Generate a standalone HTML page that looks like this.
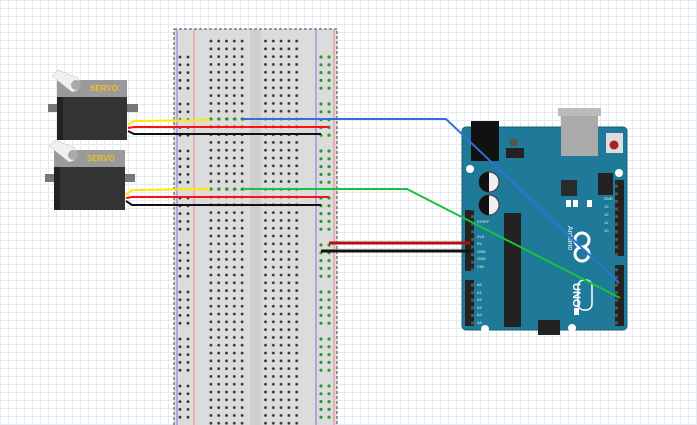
<!DOCTYPE html>
<html><head><meta charset="utf-8"><style>
html,body{margin:0;padding:0;}
body{width:697px;height:425px;overflow:hidden;background:#fff;
background-image:linear-gradient(to right,#e6eaf1 1px,transparent 1px),linear-gradient(to bottom,#e6eaf1 1px,transparent 1px);
background-size:8px 8px;}
svg{position:absolute;left:0;top:0;}
text{font-family:"Liberation Sans",sans-serif;}
</style></head><body>
<svg width="697" height="425" viewBox="0 0 697 425">
<defs>
<pattern id="mh" x="207" y="37.1" width="7.8" height="7.8" patternUnits="userSpaceOnUse">
<circle cx="3.9" cy="3.9" r="1.4" fill="#333"/></pattern>
<pattern id="rail" x="176" y="53" width="8" height="47" patternUnits="userSpaceOnUse">
<circle cx="4" cy="4" r="1.4" fill="#333"/><circle cx="4" cy="11.8" r="1.4" fill="#333"/><circle cx="4" cy="19.6" r="1.4" fill="#333"/><circle cx="4" cy="27.4" r="1.4" fill="#333"/><circle cx="4" cy="35.2" r="1.4" fill="#333"/></pattern>
<pattern id="railg" x="317" y="53" width="8" height="47" patternUnits="userSpaceOnUse">
<circle cx="4" cy="4" r="1.6" fill="#2a9a2a"/><circle cx="4" cy="11.8" r="1.6" fill="#2a9a2a"/><circle cx="4" cy="19.6" r="1.6" fill="#2a9a2a"/><circle cx="4" cy="27.4" r="1.6" fill="#2a9a2a"/><circle cx="4" cy="35.2" r="1.6" fill="#2a9a2a"/></pattern>
<pattern id="pin" x="0" y="0" width="9" height="7.6" patternUnits="userSpaceOnUse">
<rect width="9" height="7.6" fill="#222"/><rect x="3" y="2.3" width="3" height="3" fill="#555"/></pattern>
</defs>
<rect x="174" y="29" width="163" height="400" fill="#dcdcdc" stroke="#444" stroke-dasharray="3,2"/>
<rect x="250" y="30" width="11" height="400" fill="#cfcfcf"/>
<line x1="177" y1="30" x2="177" y2="425" stroke="#7777ee"/>
<line x1="194" y1="30" x2="194" y2="425" stroke="#ee8888"/>
<line x1="316" y1="30" x2="316" y2="425" stroke="#7777ee"/>
<line x1="334" y1="30" x2="334" y2="425" stroke="#ee8888"/>
<rect x="176" y="53" width="16" height="372" fill="url(#rail)"/>
<rect x="317" y="53" width="16" height="372" fill="url(#railg)"/>
<rect x="207" y="37.1" width="39" height="390" fill="url(#mh)"/>
<rect x="262" y="37.1" width="39" height="390" fill="url(#mh)"/>
<g fill="#2a9a2a"><circle cx="211" cy="119" r="1.6"/><circle cx="219" cy="119" r="1.6"/><circle cx="227" cy="119" r="1.6"/><circle cx="235" cy="119" r="1.6"/><circle cx="243" cy="119" r="1.6"/>
<circle cx="211" cy="189" r="1.6"/><circle cx="219" cy="189" r="1.6"/><circle cx="227" cy="189" r="1.6"/><circle cx="235" cy="189" r="1.6"/><circle cx="243" cy="189" r="1.6"/></g>
<!-- servo 1 -->
<g>
<rect x="48" y="104" width="90" height="8" fill="#777"/>
<rect x="57" y="80" width="70" height="60" fill="#333"/>
<rect x="57" y="97" width="6" height="43" fill="#222"/>
<path d="M57 80 L127 80 L127 97 L57 97 Z" fill="#9a9a9a"/>
<path d="M52 76 L58 70 L78 78 Q84 90 72 92 Z" fill="#f0f0f0" stroke="#bbb" stroke-width="0.5"/>
<circle cx="76" cy="85" r="5" fill="#aaa"/>
<text x="90" y="91" font-size="8" font-weight="bold" fill="#f0c020">SERVO</text>
</g>
<g>
<rect x="45" y="174" width="90" height="8" fill="#777"/>
<rect x="54" y="150" width="71" height="60" fill="#333"/>
<rect x="54" y="167" width="6" height="43" fill="#222"/>
<path d="M54 150 L125 150 L125 167 L54 167 Z" fill="#9a9a9a"/>
<path d="M49 146 L55 140 L75 148 Q81 160 69 162 Z" fill="#f0f0f0" stroke="#bbb" stroke-width="0.5"/>
<circle cx="73" cy="155" r="5" fill="#aaa"/>
<text x="87" y="161" font-size="8" font-weight="bold" fill="#f0c020">SERVO</text>
</g>
<g fill="none" stroke-width="2">
<polyline points="128,125 134,121 210,120" stroke="#ffe800"/>
<polyline points="128,128 134,127 329,127" stroke="#ff1010"/>
<polyline points="128,131 134,134 321,134" stroke="#111"/>
<polyline points="126,195 132,190 210,189" stroke="#ffe800"/>
<polyline points="126,198 132,197 329,197" stroke="#ff1010"/>
<polyline points="126,201 132,205 321,205" stroke="#111"/>
</g>
<!-- arduino -->
<rect x="462" y="127" width="165" height="203" rx="4" fill="#1f7a9a" stroke="#156079"/>
<rect x="471" y="121" width="28" height="40" fill="#111"/>
<rect x="561" y="108" width="37" height="48" fill="#aaa"/>
<rect x="558" y="108" width="43" height="8" fill="#bbb"/>
<rect x="606" y="133" width="17" height="20" fill="#ddd"/>
<circle cx="614" cy="145" r="4.5" fill="#a82020"/>
<rect x="506" y="148" width="18" height="10" fill="#222"/>
<rect x="510" y="139" width="8" height="7" fill="#555"/>
<circle cx="489" cy="182" r="10" fill="#eee" stroke="#333"/><path d="M489 172 A10 10 0 0 0 489 192 Z" fill="#111"/>
<circle cx="489" cy="205" r="10" fill="#eee" stroke="#333"/><path d="M489 195 A10 10 0 0 0 489 215 Z" fill="#111"/>
<rect x="561" y="180" width="16" height="16" fill="#2a2a2a"/>
<rect x="598" y="173" width="15" height="22" fill="#222"/>
<rect x="504" y="213" width="17" height="114" fill="#222"/>
<circle cx="470" cy="169" r="4" fill="#fff"/><circle cx="619" cy="173" r="4" fill="#fff"/>
<circle cx="485" cy="329" r="4" fill="#fff"/><circle cx="572" cy="328" r="4" fill="#fff"/>
<rect x="566" y="200" width="5" height="7" fill="#fff"/><rect x="573" y="200" width="5" height="7" fill="#fff"/><rect x="587" y="200" width="5" height="7" fill="#fff"/>
<rect x="574" y="308" width="5" height="7" fill="#fff"/>
<rect x="538" y="320" width="22" height="15" fill="#222"/>
<text x="0" y="0" transform="translate(573,283) rotate(90)" font-size="11" font-weight="bold" fill="#fff">UNO</text>
<circle cx="582" cy="240" r="7" fill="none" stroke="#fff" stroke-width="3"/><circle cx="582" cy="254" r="7" fill="none" stroke="#fff" stroke-width="3"/>
<rect x="578" y="280" width="14" height="30" rx="6" fill="none" stroke="#fff" stroke-width="1.5"/>
<text x="0" y="0" transform="translate(568,226) rotate(90)" font-size="7" fill="#fff">Arduino</text>
<rect x="615" y="180" width="9" height="76" fill="url(#pin)"/>
<rect x="615" y="265" width="9" height="61" fill="url(#pin)"/>
<rect x="465" y="210" width="9" height="61" fill="url(#pin)"/>
<rect x="465" y="280" width="9" height="46" fill="url(#pin)"/>
<g fill="#cfe" font-size="4">
<text x="604" y="200">GND</text><text x="604" y="208">13</text><text x="604" y="216">12</text><text x="604" y="224">11</text><text x="604" y="232">10</text>
<text x="477" y="223">IOREF</text><text x="477" y="238">3V3</text><text x="477" y="245">5V</text><text x="477" y="253">GND</text><text x="477" y="260">GND</text><text x="477" y="268">VIN</text>
<text x="477" y="286">A0</text><text x="477" y="294">A1</text><text x="477" y="301">A2</text><text x="477" y="309">A3</text><text x="477" y="316">A4</text><text x="477" y="324">A5</text>
</g>
<g fill="none" stroke-width="2">
<polyline points="243,119 446,119 619,283" stroke="#2f72d6"/>
<polyline points="243,189 407,189 620,298" stroke="#19c23a"/>
<line x1="329" y1="243" x2="470" y2="243" stroke="#b01010" stroke-width="3"/>
<line x1="321" y1="251" x2="470" y2="251" stroke="#111" stroke-width="3"/>
</g>
</svg>
</body></html>
